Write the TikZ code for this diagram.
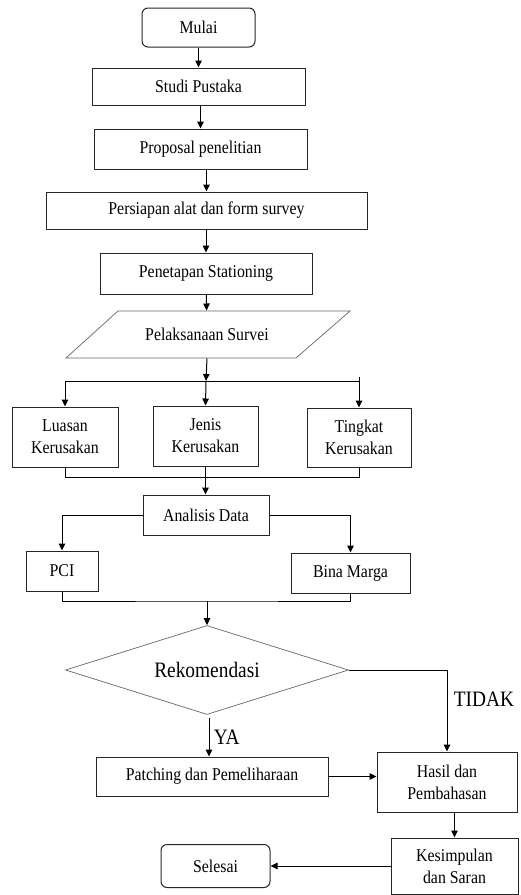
\documentclass[tikz,border=0pt]{standalone}
\usepackage{fontspec}
\setmainfont{Liberation Serif}[FakeStretch=0.88]
\usetikzlibrary{shapes.geometric,arrows.meta,calc}
\begin{document}
\begin{tikzpicture}[x=1pt,y=-1pt,
  box/.style={draw=black!85, line width=1pt, inner sep=0pt, align=center,
    font=\fontsize{18}{22}\selectfont},
  term/.style={box, rounded corners=6pt},
  arr/.style={line width=1pt, -{Triangle[length=7pt,width=6.5pt]}},
  ln/.style={line width=1pt},
  big/.style={font=\fontsize{22}{24}\selectfont}]
\useasboundingbox (0,0) rectangle (521,895);
\node[term, minimum width=113pt, minimum height=39pt] (mulai) at (198.5,27.5) {Mulai};
\node[box, minimum width=213pt, minimum height=37pt] (studi) at (198.5,86.5) {Studi Pustaka};
\node[box, minimum width=213pt, minimum height=40pt] (prop) at (200.5,149) {Proposal penelitian};
\node[box, minimum width=321pt, minimum height=37pt] (pers) at (206.5,210.5) {Persiapan alat dan form survey};
\node[box, minimum width=212pt, minimum height=41pt] (pen) at (206,273.5) {Penetapan Stationing};
\node[box, draw=none, minimum width=230pt, minimum height=47pt] (survei) at (207,334.5) {Pelaksanaan Survei};
\draw[black!60, line width=0.7pt] (118,311) -- (350,311) -- (296,358) -- (66,358) -- cycle;
\node[box, minimum width=106pt, minimum height=60pt] (luas) at (65,437) {Luasan\\Kerusakan};
\node[box, minimum width=105pt, minimum height=60pt] (jenis) at (205.5,436) {Jenis\\Kerusakan};
\node[box, minimum width=104pt, minimum height=59pt] (ting) at (359,437.5) {Tingkat\\Kerusakan};
\node[box, minimum width=126pt, minimum height=40pt] (anal) at (206,515) {Analisis Data};
\node[box, minimum width=72pt, minimum height=40pt] (pci) at (62,571) {PCI};
\node[box, minimum width=119pt, minimum height=40pt] (bina) at (350.5,573) {Bina Marga};
\node[diamond, draw=black!60, line width=0.7pt, inner sep=0pt, aspect=3.18,
  minimum width=283pt, minimum height=89pt, big] (rek) at (207,670) {Rekomendasi};
\node[box, minimum width=232pt, minimum height=39pt] (patch) at (212,776.5) {Patching dan Pemeliharaan};
\node[box, minimum width=140pt, minimum height=60pt] (hasil) at (447,782) {Hasil dan\\Pembahasan};
\node[box, minimum width=127pt, minimum height=56pt] (kes) at (454.5,866) {Kesimpulan\\dan Saran};
\node[term, minimum width=109pt, minimum height=43pt] (sel) at (215.5,866) {Selesai};

\draw[arr] (mulai) -- (studi);
\draw[arr] (studi.south -| prop.north) -- (prop);
\draw[arr] (prop.south -| pers.north) -- (pers);
\draw[arr] (pers.south -| pen.north) -- (pen);
\draw[arr] (pen) -- (survei);
\coordinate (split) at (206,381);
\draw[arr] (survei.south) -- (split);
\draw[ln] (luas.north |- split) -- (ting.north |- split) -- ++(0,-4);
\draw[arr] (luas.north |- split) -- (luas.north);
\draw[arr] (split) -- (jenis.north);
\draw[arr] (ting.north |- split) -- (ting.north);
\draw[ln] (luas.south) -- ++(0,10) -| (ting.south);
\draw[arr] (jenis.south) -- (anal.north -| jenis.south);
\draw[arr] (anal.west) -| (pci.north);
\draw[arr] (anal.east) -| (bina.north);
\coordinate (m2) at (207,601);
\draw[ln] (pci.south) |- (m2) -| (bina.south);
\draw[arr] (m2) -- (rek.north);
\draw[arr] (rek.east) -| node[pos=0.68, right=3pt, big] {TIDAK} (hasil.north);
\coordinate (ya) at (209,718);
\draw[arr] (ya) -- node[right=1pt, big] {YA} (patch.north -| ya);
\draw[arr] (patch.east) -- (patch.east -| hasil.west);
\draw[arr] (hasil.south -| kes.north) -- (kes.north);
\draw[arr] (kes.west) -- (sel.east);
\end{tikzpicture}
\end{document}
